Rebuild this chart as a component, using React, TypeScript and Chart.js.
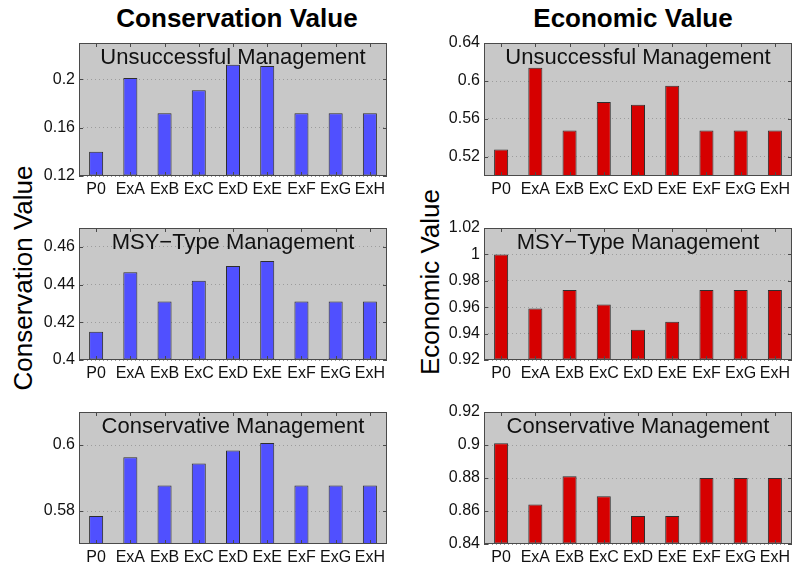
import React, { useEffect, useRef } from 'react';
import { Chart, registerables } from 'chart.js';

Chart.register(...registerables);

// ---------- data ----------
const categories = ['P0', 'ExA', 'ExB', 'ExC', 'ExD', 'ExE', 'ExF', 'ExG', 'ExH'];

const consUnsuccessful = [0.140, 0.201, 0.172, 0.191, 0.212, 0.211, 0.172, 0.172, 0.172];
const econUnsuccessful = [0.528, 0.614, 0.548, 0.578, 0.575, 0.595, 0.548, 0.548, 0.548];
const consMSY = [0.415, 0.4465, 0.431, 0.442, 0.4498, 0.4525, 0.431, 0.431, 0.431];
const econMSY = [1.0, 0.959, 0.973, 0.962, 0.943, 0.949, 0.973, 0.973, 0.973];
const consConservative = [0.5785, 0.5963, 0.5877, 0.5944, 0.5983, 0.6006, 0.5877, 0.5877, 0.5877];
const econConservative = [0.901, 0.864, 0.881, 0.869, 0.857, 0.857, 0.880, 0.880, 0.880];

const consUnsTicks = [0.12, 0.16, 0.2];
const econUnsTicks = [0.52, 0.56, 0.6, 0.64];
const consMSYTicks = [0.4, 0.42, 0.44, 0.46];
const econMSYTicks = [0.92, 0.94, 0.96, 0.98, 1, 1.02];
const consConsTicks = [0.58, 0.6];
const econConsTicks = [0.84, 0.86, 0.88, 0.9, 0.92];

const consUnsRange = [0.12, 0.23];
const econUnsRange = [0.5, 0.64];
const consMSYRange = [0.4, 0.47];
const econMSYRange = [0.92, 1.02];
const consConsRange = [0.57, 0.61];
const econConsRange = [0.84, 0.92];

const panelTitles = ['Unsuccessful Management', 'MSY\u2212Type Management', 'Conservative Management'];
const columnTitles = ['Conservation Value', 'Economic Value'];

// ---------- style ----------
const FONT = "'Liberation Sans', Arial, Helvetica, sans-serif";
const BLUE = 'rgb(80,80,255)';
const RED = 'rgb(214,0,0)';
const BG = '#c8c8c8';
const YW = 49;
const XH = 24;
const PT = 10;

const decor = {
  id: 'panelDecor',
  beforeDraw(chart: any) {
    const { ctx, chartArea: a } = chart;
    ctx.save();
    ctx.fillStyle = BG;
    ctx.fillRect(a.left, a.top, a.right - a.left, a.bottom - a.top);
    ctx.restore();
  },
  afterDatasetsDraw(chart: any, _args: any, opts: any) {
    const { ctx, chartArea: a } = chart;
    ctx.save();
    // tick marks
    ctx.strokeStyle = '#4a4a4a';
    ctx.lineWidth = 1;
    const xs = chart.scales.x;
    for (let i = 0; i < categories.length; i++) {
      const px = Math.round(xs.getPixelForTick(i)) + 0.5;
      ctx.beginPath();
      ctx.moveTo(px, a.top);
      ctx.lineTo(px, a.top + 4);
      ctx.moveTo(px, a.bottom);
      ctx.lineTo(px, a.bottom - 4);
      ctx.stroke();
    }
    const ys = chart.scales.y;
    ys.ticks.forEach((t: any) => {
      const py = Math.round(ys.getPixelForValue(t.value)) + 0.5;
      ctx.beginPath();
      ctx.moveTo(a.left, py);
      ctx.lineTo(a.left + 4, py);
      ctx.moveTo(a.right, py);
      ctx.lineTo(a.right - 4, py);
      ctx.stroke();
    });
    // frame
    ctx.strokeStyle = '#4a4a4a';
    ctx.strokeRect(a.left + 0.5, a.top + 0.5, a.right - a.left - 1, a.bottom - a.top - 1);
    // title
    ctx.fillStyle = '#111';
    ctx.font = `22px ${FONT}`;
    ctx.textAlign = 'center';
    ctx.textBaseline = 'alphabetic';
    ctx.fillText(opts.title, (a.left + a.right) / 2, a.top + 21);
    ctx.restore();
  },
};

type PanelProps = {
  title: string;
  values: number[];
  ticks: number[];
  range: number[];
  color: string;
  areaLeft: number;
  areaRight: number;
  areaTop: number;
  areaBottom: number;
  padRight: number;
};

function Panel(p: PanelProps) {
  const ref = useRef<HTMLCanvasElement>(null);
  const W = YW + (p.areaRight - p.areaLeft) + p.padRight;
  const H = PT + (p.areaBottom - p.areaTop) + XH;
  useEffect(() => {
    const chart = new Chart(ref.current as HTMLCanvasElement, {
      type: 'bar',
      data: {
        labels: categories,
        datasets: [
          {
            data: p.values,
            backgroundColor: p.color,
            borderColor: '#2e2e2e',
            borderWidth: 1,
            borderSkipped: false,
            base: p.range[0],
            barPercentage: 0.41,
            categoryPercentage: 1,
          } as any,
        ],
      },
      options: {
        animation: false,
        responsive: false,
        maintainAspectRatio: false,
        layout: { padding: { left: 0, right: p.padRight, top: PT, bottom: 0 } },
        plugins: {
          legend: { display: false },
          tooltip: { enabled: false },
          panelDecor: { title: p.title },
        } as any,
        scales: {
          x: {
            grid: { display: false, drawTicks: false },
            border: { display: false },
            ticks: {
              color: '#111',
              font: { family: FONT, size: 16 },
              padding: 4,
              maxRotation: 0,
              autoSkip: false,
            },
            afterFit: (s: any) => {
              s.height = XH;
              s.paddingLeft = 0;
              s.paddingRight = 0;
            },
          },
          y: {
            min: p.range[0],
            max: p.range[1],
            grid: { color: '#9c9c9c', drawTicks: false, lineWidth: 1 },
            border: { display: false, dash: [1, 3] },
            ticks: {
              color: '#111',
              font: { family: FONT, size: 16 },
              padding: 4,
              callback: (v: any) => String(parseFloat(Number(v).toFixed(3))),
            },
            afterBuildTicks: (s: any) => {
              s.ticks = p.ticks.map((v) => ({ value: v }));
            },
            afterFit: (s: any) => {
              s.width = YW;
              s.paddingTop = 0;
              s.paddingBottom = 0;
            },
          },
        } as any,
      },
      plugins: [decor],
    });
    return () => chart.destroy();
  }, []);
  return (
    <canvas
      ref={ref}
      width={W}
      height={H}
      style={{ position: 'absolute', left: p.areaLeft - YW, top: p.areaTop - PT, width: W, height: H }}
    />
  );
}

const rows = [
  { top: 43, bottom: 176 },
  { top: 228, bottom: 360 },
  { top: 412, bottom: 544 },
];
const cols = [
  { left: 79, right: 387, pad: 4 },
  { left: 484, right: 792, pad: 2 },
];

export default function App() {
  const consSeries = [consUnsuccessful, consMSY, consConservative];
  const econSeries = [econUnsuccessful, econMSY, econConservative];
  const consTicks = [consUnsTicks, consMSYTicks, consConsTicks];
  const econTicks = [econUnsTicks, econMSYTicks, econConsTicks];
  const consRanges = [consUnsRange, consMSYRange, consConsRange];
  const econRanges = [econUnsRange, econMSYRange, econConsRange];

  return (
    <div style={{ position: 'absolute', left: 0, top: 0, width: 794, height: 570, background: '#fff', overflow: 'hidden', fontFamily: FONT }}>
      <div style={{ position: 'absolute', left: 237 - 200, top: 5, width: 400, textAlign: 'center', fontWeight: 'bold', fontSize: 26, lineHeight: '26px', color: '#000' }}>
        {columnTitles[0]}
      </div>
      <div style={{ position: 'absolute', left: 633 - 200, top: 5, width: 400, textAlign: 'center', fontWeight: 'bold', fontSize: 26, lineHeight: '26px', color: '#000' }}>
        {columnTitles[1]}
      </div>
      <div style={{ position: 'absolute', left: 23 - 150, top: 278 - 13, width: 300, height: 26, textAlign: 'center', fontSize: 26, lineHeight: '26px', color: '#000', transform: 'rotate(-90deg)', whiteSpace: 'nowrap' }}>
        {columnTitles[0]}
      </div>
      <div style={{ position: 'absolute', left: 430 - 150, top: 282 - 13, width: 300, height: 26, textAlign: 'center', fontSize: 26, lineHeight: '26px', color: '#000', transform: 'rotate(-90deg)', whiteSpace: 'nowrap' }}>
        {columnTitles[1]}
      </div>
      {rows.map((r, i) => (
        <React.Fragment key={i}>
          <Panel
            title={panelTitles[i]}
            values={consSeries[i]}
            ticks={consTicks[i]}
            range={consRanges[i]}
            color={BLUE}
            areaLeft={cols[0].left}
            areaRight={cols[0].right}
            areaTop={r.top}
            areaBottom={r.bottom}
            padRight={cols[0].pad}
          />
          <Panel
            title={panelTitles[i]}
            values={econSeries[i]}
            ticks={econTicks[i]}
            range={econRanges[i]}
            color={RED}
            areaLeft={cols[1].left}
            areaRight={cols[1].right}
            areaTop={r.top}
            areaBottom={r.bottom}
            padRight={cols[1].pad}
          />
        </React.Fragment>
      ))}
    </div>
  );
}
